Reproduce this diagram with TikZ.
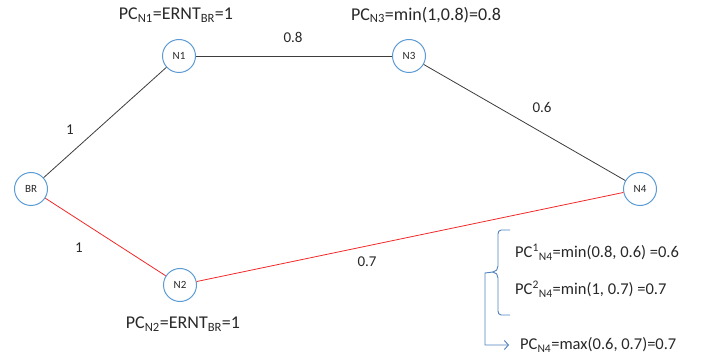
\documentclass[tikz,border=0pt]{standalone}
\usepackage{fontspec}
\setmainfont{Carlito}
\usetikzlibrary{arrows.meta}
\definecolor{nodeblue}{RGB}{91,155,213}
\definecolor{bracketblue}{RGB}{79,129,189}
\definecolor{txt}{RGB}{40,40,40}
\definecolor{edgegray}{RGB}{60,60,60}
\definecolor{edgered}{RGB}{240,40,40}
\tikzset{
  netnode/.style={circle, draw=nodeblue, line width=1pt, fill=white, minimum size=33pt, inner sep=0pt, font=\fontsize{11}{12}\selectfont, text=txt},
  bigtext/.style={font=\fontsize{18}{20}\selectfont, text=txt, inner sep=0pt},
  medtext/.style={font=\fontsize{16.5}{18}\selectfont, text=txt, inner sep=0pt, anchor=west},
  wtext/.style={font=\fontsize{15}{17}\selectfont, text=txt, inner sep=0pt},
  blackedge/.style={draw=edgegray, line width=0.8pt},
  rededge/.style={draw=edgered, line width=0.8pt},
  bracestyle/.style={draw=bracketblue, line width=0.9pt}
}
\begin{document}
\begin{tikzpicture}[x=1pt,y=-1pt]
\useasboundingbox (0,0) rectangle (718,358);
% nodes
\node[netnode] (BR) at (31,189) {BR};
\node[netnode] (N1) at (179,56) {N1};
\node[netnode] (N3) at (409,56) {N3};
\node[netnode] (N2) at (180,285) {N2};
\node[netnode] (N4) at (640,189) {N4};
% edges
\draw[blackedge] (BR) -- (N1);
\draw[blackedge] (N1) -- (N3);
\draw[blackedge] (N3) -- (N4);
\draw[rededge] (BR) -- (N2);
\draw[rededge] (N2) -- (N4);
% edge weights
\node[wtext] (w1) at (70,130) {1};
\node[wtext] (w2) at (79,248) {1};
\node[wtext] (w3) at (293,37) {0.8};
\node[wtext] (w4) at (542,107) {0.6};
\node[wtext] (w5) at (367,262) {0.7};
% PC labels
\node[bigtext] (pcn1) at (176,15) {PC\textsubscript{N1}=ERNT\textsubscript{BR}=1};
\node[bigtext] (pcn3) at (426,15) {PC\textsubscript{N3}=min(1,0.8)=0.8};
\node[bigtext] (pcn2) at (183,324) {PC\textsubscript{N2}=ERNT\textsubscript{BR}=1};
\node[medtext] (pc1) at (515,252) {PC\textsuperscript{1}\textsubscript{N4}=min(0.8, 0.6) =0.6};
\node[medtext] (pc2) at (515,289) {PC\textsuperscript{2}\textsubscript{N4}=min(1, 0.7) =0.7};
\node[medtext] (pcmax) at (520,345) {PC\textsubscript{N4}=max(0.6, 0.7)=0.7};
% brace
\coordinate (btip) at (493,272);
\draw[bracestyle] (510,230) -- (501,230) to[out=180,in=90] (498,234) -- (498,266)
   to[out=-90,in=0] (btip) to[out=0,in=90] (498,278) -- (498,311)
   to[out=-90,in=180] (501,315) -- (510,315);
\coordinate (bend1) at (485,273);
\coordinate (bend2) at (485,345);
\draw[bracestyle, -{Straight Barb[length=4pt,width=9pt]}] (btip) -- (bend1) -- (bend2) -- (pcmax.west -| 509,0);
\end{tikzpicture}
\end{document}
